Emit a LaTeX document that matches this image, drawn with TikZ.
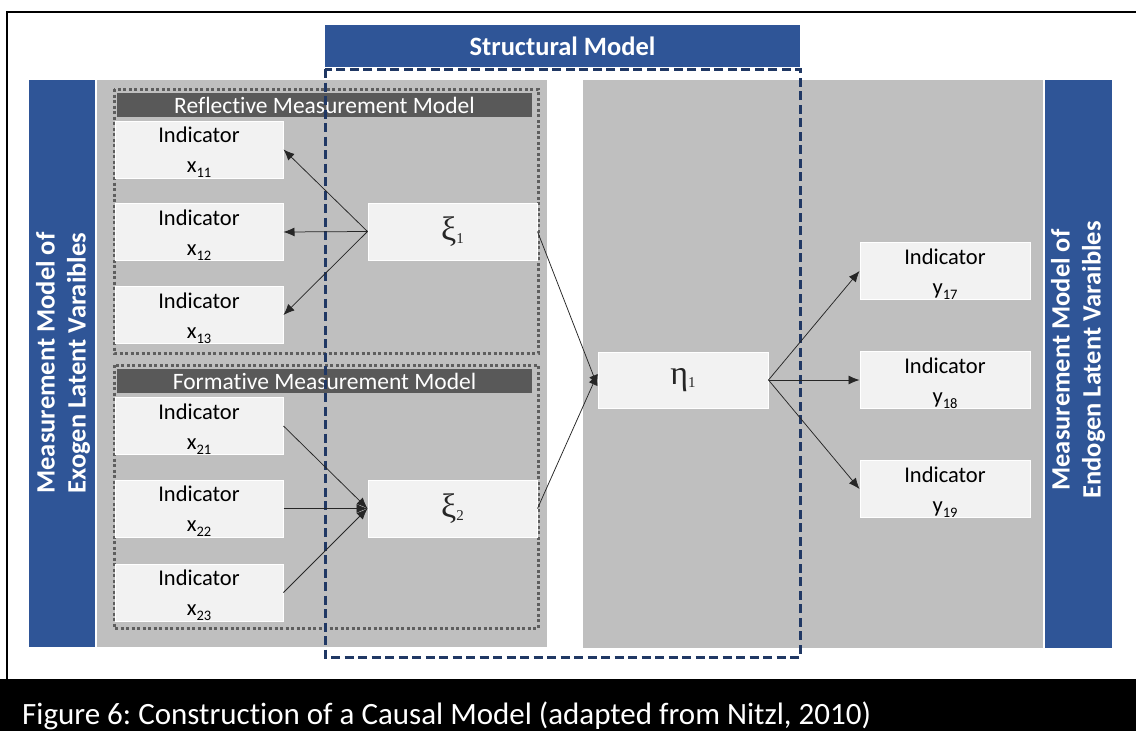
\documentclass[tikz,border=0pt]{standalone}
\usepackage{fontspec}
\setmainfont{Carlito}[Ligatures=NoCommon]
\newfontfamily\grk{Liberation Serif}
\usetikzlibrary{arrows.meta}
\frenchspacing
\definecolor{blueF}{HTML}{2F5597}
\definecolor{grayP}{HTML}{BFBFBF}
\definecolor{boxF}{HTML}{F2F2F2}
\definecolor{hdrF}{HTML}{595959}
\definecolor{navyD}{HTML}{203864}
\definecolor{dotG}{HTML}{5E5E5E}
\newcommand{\mysub}[1]{\raisebox{-0.22em}{\fontsize{14.5}{14.5}\selectfont #1}}
\newcommand{\grsub}[1]{\raisebox{-0.08em}{\fontsize{15}{15}\selectfont #1}}
\newcommand{\indtxt}[1]{\rule{0pt}{21.5pt}Indicator\\#1}
\tikzset{
  ind/.style={draw=white, line width=1, fill=boxF, inner sep=0, minimum width=168, minimum height=57, align=center, font=\fontsize{22.5}{30}\selectfont, text=black},
  lat/.style={draw=white, line width=1, fill=boxF, inner sep=0, minimum width=169, minimum height=57, font=\grk\fontsize{34}{34}\selectfont, text=black!85},
  hdr/.style={fill=hdrF, inner sep=0, minimum width=415, minimum height=24, text=white, font=\fontsize{23.5}{24}\selectfont},
  bar/.style={fill=blueF},
  panel/.style={fill=grayP},
  dotbox/.style={draw=dotG, line width=3, dash pattern=on 3 off 2.5},
  arr/.style={-{Latex[length=11,width=9]}, line width=0.75, draw=black!85},
  vtext/.style={rotate=90, align=center, text=white, font=\bfseries\fontsize{26.5}{31}\selectfont}
}
\begin{document}
\begin{tikzpicture}[x=1pt,y=-1pt]
\useasboundingbox (0,0) rectangle (1136,731);
\fill[white] (0,0) rectangle (1136,731);
% frame and caption band
\draw[line width=2] (7,679) -- (7,12) -- (1136,12);
\fill[black] (0,679) rectangle (1136,731);
\node[anchor=base west, inner sep=0, text=white, font=\fontsize{31}{31}\selectfont] (cap) at (22,724) {Figure 6: Construction of a Causal Model (adapted from Nitzl, 2010)};
% bars and panels
\fill[bar] (29,80) rectangle (95,647);
\fill[bar] (1045,80) rectangle (1112,648);
\fill[panel] (97,80) rectangle (547,647);
\fill[panel] (583,80) rectangle (1043,648);
\node[vtext] (lbar) at (63,363) {Measurement Model of\\Exogen Latent Varaibles};
\node[vtext] (rbar) at (1078,360) {Measurement Model of\\Endogen Latent Varaibles};
% structural header
\node[fill=blueF, inner sep=0, minimum width=475, minimum height=42, text=white, font=\bfseries\fontsize{26.5}{28}\selectfont] (smh) at (562.5,46) {Structural Model};
% dotted group boxes
\draw[dotbox] (114,89) rectangle (538,353);
\draw[dotbox] (114,365) rectangle (538,628);
\node[hdr] (refh) at (324.5,105) {Reflective Measurement Model};
\node[hdr] (forh) at (324.5,381) {Formative Measurement Model};
% structural dashed frame
\draw[navyD, line width=3, dash pattern=on 9 off 4.5] (325,69) rectangle (800,657);
% indicator boxes
\node[ind] (x11) at (199,149.5) {\indtxt{x\mysub{11}}};
\node[ind] (x12) at (199,232) {\indtxt{x\mysub{12}}};
\node[ind] (x13) at (199,315) {\indtxt{x\mysub{13}}};
\node[ind] (x21) at (199,426) {\indtxt{x\mysub{21}}};
\node[ind] (x22) at (199,508.5) {\indtxt{x\mysub{22}}};
\node[ind] (x23) at (199,592.5) {\indtxt{x\mysub{23}}};
\node[lat] (xi1) at (452.5,231.5) {ξ\grsub{1}};
\node[lat] (xi2) at (452.5,508.5) {ξ\grsub{2}};
\node[lat, minimum width=170, minimum height=56] (eta) at (683,380) {η\grsub{1}};
\node[ind, minimum width=170] (y17) at (945,271) {\indtxt{y\mysub{17}}};
\node[ind, minimum width=170] (y18) at (945,380) {\indtxt{y\mysub{18}}};
\node[ind, minimum width=170] (y19) at (945,489) {\indtxt{y\mysub{19}}};
% arrows
\draw[arr] (xi1.west) -- (x11.east);
\draw[arr] (xi1.west) -- (x12.east);
\draw[arr] (xi1.west) -- (x13.east);
\draw[arr] (x21.east) -- (xi2.west);
\draw[arr] (x22.east) -- (xi2.west);
\draw[arr] (x23.east) -- (xi2.west);
\coordinate (etaA) at ([yshift=-6]eta.west);
\coordinate (etaB) at ([yshift=6]eta.west);
\draw[arr] (xi1.east) -- (etaA);
\draw[arr] (xi2.east) -- (etaB);
\draw[arr] (eta.east) -- (y17.west);
\draw[arr] (eta.east) -- (y18.west);
\draw[arr] (eta.east) -- (y19.west);
\end{tikzpicture}
\end{document}
